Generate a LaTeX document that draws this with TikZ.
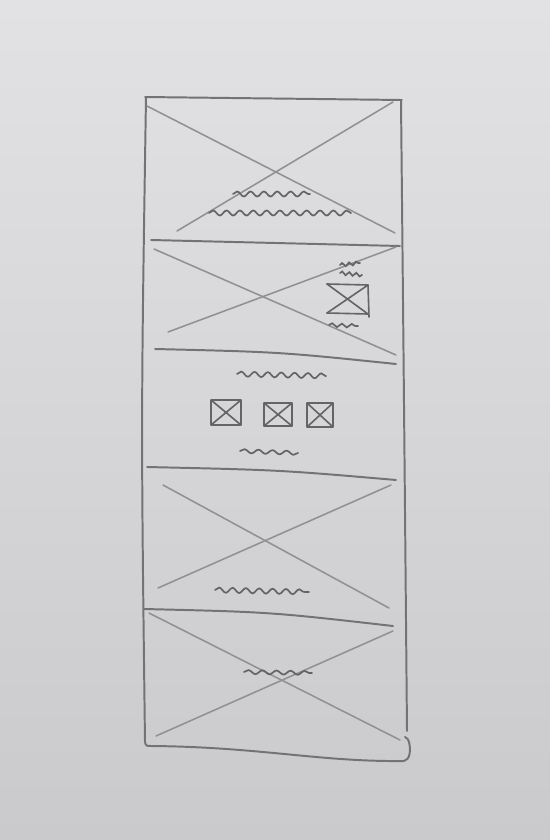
\documentclass[tikz,border=0pt]{standalone}
\usetikzlibrary{decorations.pathmorphing}
\definecolor{papertop}{RGB}{226,226,229}
\definecolor{paperbot}{RGB}{202,202,205}
\definecolor{lead}{RGB}{115,115,118}
\definecolor{leadlight}{RGB}{145,145,148}
\definecolor{leaddark}{RGB}{100,100,103}
\begin{document}
\begin{tikzpicture}[x=0.5mm, y=-0.5mm,
  frame/.style={draw=lead, line width=2.8pt, line cap=round, line join=round},
  cross/.style={draw=leadlight, line width=2.2pt, line cap=round},
  scribble/.style={draw=leaddark, line width=2.4pt, line cap=round,
    decorate, decoration={snake, amplitude=3.6pt, segment length=19pt}},
  thumb/.style={draw=leaddark, line width=2.3pt, line cap=round, line join=round}
]
\shade[top color=papertop, bottom color=paperbot] (0,0) rectangle (550,840);

% outer frame
\draw[frame] (145,97) -- (402,100);
\draw[frame] (146,97) .. controls (141,420) .. (145,742);
\draw[frame] (401,101) .. controls (404,400) .. (407,731);
\draw[frame] (145,742) .. controls (146,746) .. (152,746)
  .. controls (260,747) and (320,762) .. (404,761)
  .. controls (410,760) and (411,750) .. (409,742)
  .. controls (408,739) .. (405,737);

% dividers
\draw[frame] (151,240) -- (400,246);
\draw[frame] (155,349) .. controls (280,352) .. (396,364);
\draw[frame] (147,467) .. controls (280,470) .. (396,480);
\draw[frame] (144,609) .. controls (270,612) .. (393,626);

% panel 1
\draw[cross] (147,106) -- (395,233);
\draw[cross] (177,231) -- (393,102);
\draw[scribble] (233,194) -- (310,194);
\draw[scribble] (209,213) -- (351,213);

% panel 2
\draw[cross] (154,249) -- (396,355);
\draw[cross] (168,332) -- (396,247);
\draw[scribble, decoration={amplitude=2.4pt, segment length=10pt}] (340,265) -- (360,263);
\draw[scribble, decoration={amplitude=2.4pt, segment length=10pt}] (340,273) -- (362,275);
\draw[thumb] (327,284) -- (368,285) -- (369,317) (368,314) -- (327,313) -- cycle;
\draw[thumb] (327,284) -- (368,314) (327,313) -- (368,285);
\draw[scribble, decoration={amplitude=2.6pt, segment length=14pt}] (329,325) -- (358,326);

% panel 3
\draw[scribble] (237,374) -- (326,376);
\foreach \xa/\ya/\xb/\yb in {211/400/241/425, 264/403/292/426, 307/403/333/427}
  \draw[thumb] (\xa,\ya) rectangle (\xb,\yb) (\xa,\ya) -- (\xb,\yb) (\xa,\yb) -- (\xb,\ya);
\draw[scribble, decoration={amplitude=2.8pt, segment length=20pt}] (240,451) -- (298,453);

% panel 4
\draw[cross] (163,485) -- (389,608);
\draw[cross] (158,588) -- (391,485);
\draw[scribble] (215,590) -- (309,592);

% panel 5
\draw[cross] (149,613) -- (400,740);
\draw[cross] (156,736) -- (393,631);
\draw[scribble, decoration={amplitude=2.8pt, segment length=20pt}] (244,672) -- (312,673);
\end{tikzpicture}
\end{document}
